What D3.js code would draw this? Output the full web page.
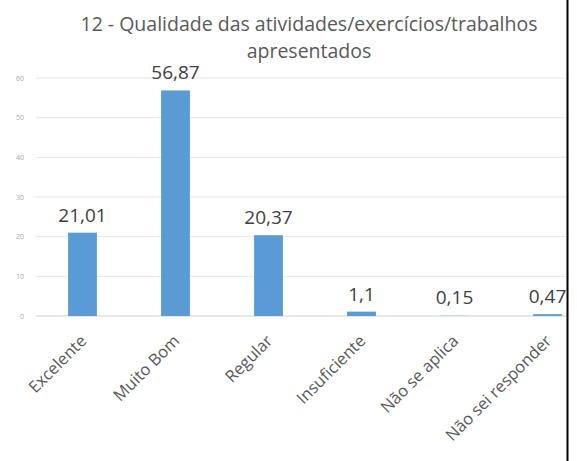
<!DOCTYPE html>
<html>
<head>
<meta charset="utf-8">
<script src="https://cdn.jsdelivr.net/npm/d3@7"></script>
<style>
  body { margin: 0; background: #fff; }
  svg { display: block; }
</style>
</head>
<body>
<div id="chart"></div>
<script>
const categories = ["Excelente", "Muito Bom", "Regular", "Insuficiente", "Não se aplica", "Não sei responder"];
const values = [21.01, 56.87, 20.37, 1.1, 0.15, 0.47];
const valueLabels = ["21,01", "56,87", "20,37", "1,1", "0,15", "0,47"];
const yTicks = [0, 10, 20, 30, 40, 50, 60];
const titleLines = ["12 - Qualidade das atividades/exercícios/trabalhos", "apresentados"];

const W = 577, H = 461;
const font = "'Open Sans', sans-serif";

const svg = d3.select("#chart").append("svg")
  .attr("width", W)
  .attr("height", H);

const x = d3.scaleBand()
  .domain(categories)
  .range([36, 594])
  .paddingInner(0.69)
  .paddingOuter(0.345);

const y = d3.scaleLinear()
  .domain([0, 60])
  .range([316, 78]);

// gridlines
svg.append("g")
  .selectAll("line")
  .data(yTicks)
  .enter()
  .append("line")
  .attr("x1", 36)
  .attr("x2", W)
  .attr("y1", (d) => y(d))
  .attr("y2", (d) => y(d))
  .attr("stroke", (d) => (d === 0 ? "#d0d0d0" : "#e6e6e6"))
  .attr("stroke-width", 1);

// y axis labels
svg.append("g")
  .selectAll("text")
  .data(yTicks)
  .enter()
  .append("text")
  .attr("x", 24)
  .attr("y", (d) => y(d) + 2.5)
  .attr("text-anchor", "end")
  .attr("font-family", font)
  .attr("font-size", 7)
  .attr("fill", "#a6a6a6")
  .text((d) => d);

// bars
svg.append("g")
  .selectAll("rect")
  .data(values)
  .enter()
  .append("rect")
  .attr("x", (d, i) => x(categories[i]))
  .attr("width", x.bandwidth())
  .attr("y", (d) => y(d))
  .attr("height", (d) => y(0) - y(d))
  .attr("fill", (d, i) => (i === 4 ? "#b4d0ec" : "#5b9bd5"));

// value labels
svg.append("g")
  .selectAll("text")
  .data(values)
  .enter()
  .append("text")
  .attr("x", (d, i) => x(categories[i]) + x.bandwidth() / 2)
  .attr("y", (d) => y(d) - 11)
  .attr("text-anchor", "middle")
  .attr("font-family", font)
  .attr("font-size", 19)
  .attr("fill", "#404040")
  .text((d, i) => valueLabels[i]);

// category labels
svg.append("g")
  .selectAll("text")
  .data(categories)
  .enter()
  .append("text")
  .attr("transform", (d) => `translate(${x(d) + x.bandwidth() / 2 + 5},${342}) rotate(-45)`)
  .attr("text-anchor", "end")
  .attr("font-family", font)
  .attr("font-size", 16.5)
  .attr("fill", "#595959")
  .text((d) => d);

// title
svg.append("g")
  .selectAll("text")
  .data(titleLines)
  .enter()
  .append("text")
  .attr("x", 309)
  .attr("y", (d, i) => 31 + i * 27)
  .attr("text-anchor", "middle")
  .attr("font-family", font)
  .attr("font-size", 19.5)
  .attr("fill", "#595959")
  .text((d) => d);

// right border
svg.append("rect")
  .attr("x", 568.5)
  .attr("y", 0)
  .attr("width", W - 568.5)
  .attr("height", H)
  .attr("fill", "#fff");
svg.append("line")
  .attr("x1", 567.5)
  .attr("x2", 567.5)
  .attr("y1", 0)
  .attr("y2", H)
  .attr("stroke", "#000")
  .attr("stroke-width", 2);
</script>
</body>
</html>
